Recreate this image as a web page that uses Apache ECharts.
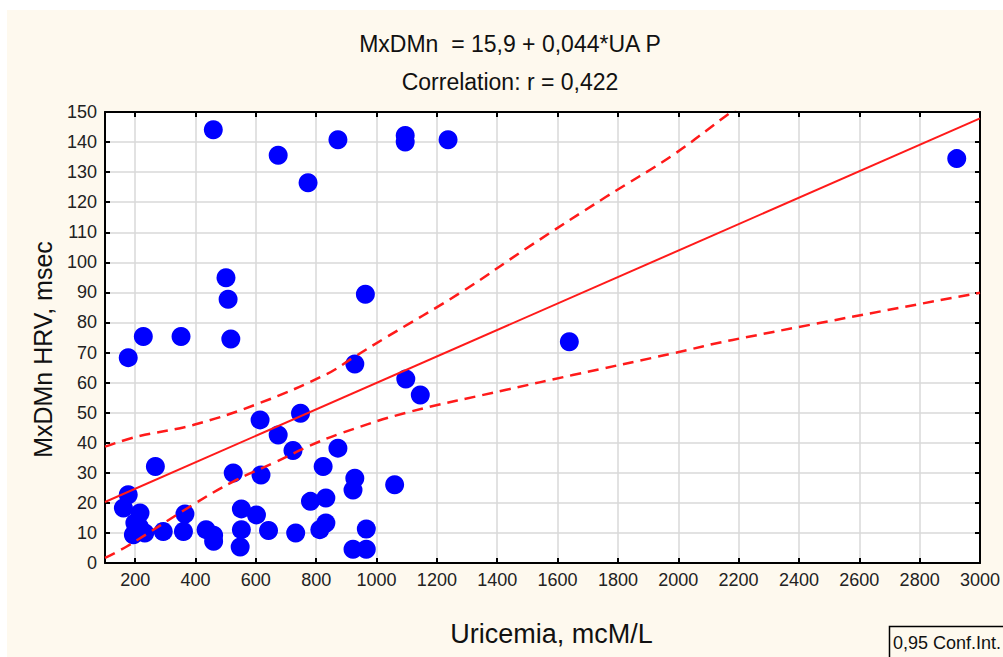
<!DOCTYPE html>
<html>
<head>
<meta charset="utf-8">
<title>MxDMn vs Uricemia</title>
<script src="https://cdn.jsdelivr.net/npm/echarts@6/dist/echarts.min.js"></script>
<style>
    html, body { margin: 0; padding: 0; background: #fff; }
    #chart { width: 1003px; height: 657px; }
</style>
</head>
<body>
<div id="chart"></div>
<script>
// uric acid (mcM/L) and MxDMn HRV (msec) per patient
const uaVals = [
    459, 674, 773, 872, 1095, 1095, 1237, 501, 508, 517,
    227, 352, 177, 963, 928, 1097, 1145, 614, 748, 1639,
    2923, 267, 177, 161, 216, 199, 194, 232, 214, 293,
    365, 360, 435, 460, 460, 525, 617, 552, 602, 552,
    548, 642, 674, 723, 872, 823, 928, 922, 1060, 781,
    832, 732, 812, 832, 966, 922, 966
];
const mxVals = [
    144.1, 135.6, 126.5, 140.8, 142.2, 140.0, 140.8, 94.9, 87.7, 74.5,
    75.3, 75.3, 68.3, 89.4, 66.2, 61.2, 55.9, 47.6, 49.8, 73.6,
    134.5, 32.1, 22.7, 18.3, 16.6, 13.3, 9.4, 10.0, 12.0, 10.5,
    16.3, 10.5, 11.1, 9.2, 7.2, 29.9, 29.3, 18.0, 16.0, 11.1,
    5.3, 10.8, 42.6, 37.4, 38.2, 32.1, 28.2, 24.3, 26.0, 20.5,
    21.6, 10.0, 11.1, 13.3, 11.3, 4.6, 4.6
];

// regression line end points
const fitX = [100, 3000];
const fitY = [20.3, 147.9];

// 0,95 confidence band, upper and lower
const upX = [100, 205, 392, 613, 834, 921, 1021, 1286, 1496, 1761, 1981, 2169, 2200];
const upY = [38.7, 42.0, 45.9, 53.2, 62.8, 68.2, 74.4, 90.4, 104.6, 121.8, 135.6, 149.5, 151.5];
const loX = [100, 172, 392, 525, 657, 779, 878, 1099, 1430, 1650, 1981, 2180, 3000];
const loY = [1.7, 5.5, 19.4, 27.1, 33.2, 39.0, 43.0, 50.0, 57.6, 62.5, 69.7, 74.2, 89.9];

const xTicks = [200, 400, 600, 800, 1000, 1200, 1400, 1600, 1800, 2000, 2200, 2400, 2600, 2800, 3000];

const FONT = "Liberation Sans";
const zip = (xs, ys) => xs.map((x, i) => [x, ys[i]]);

const chart = echarts.init(document.getElementById("chart"), null, { renderer: "svg" });

const axisLine = { show: true, onZero: false, lineStyle: { color: "#000", width: 2 } };
const tickStyle = { color: "#000", width: 2 };
const gridLine = { show: true, lineStyle: { color: "#d9d9d9", width: 1.5 } };
const dashed = { color: "#ff1a1a", width: 2.5, type: [11, 7] };

chart.setOption({
    backgroundColor: "#fff",
    animation: false,
    graphic: [
        {
            type: "rect", z: -10, silent: true,
            shape: { x: 7, y: 10, width: 1000, height: 650 },
            style: { fill: "#fef9ee" }
        },
        {
            type: "text", x: 510, y: 44,
            style: { text: "MxDMn  = 15,9 + 0,044*UA P", align: "center", verticalAlign: "middle", fontSize: 23, fontFamily: FONT, fill: "#111" }
        },
        {
            type: "text", x: 510, y: 82,
            style: { text: "Correlation: r = 0,422", align: "center", verticalAlign: "middle", fontSize: 23, fontFamily: FONT, fill: "#111" }
        },
        {
            type: "rect", silent: true,
            shape: { x: 889.5, y: 626.5, width: 130, height: 40 },
            style: { fill: "#fef9ee", stroke: "#000", lineWidth: 1.5 }
        },
        {
            type: "text", x: 893, y: 643,
            style: { text: "0,95 Conf.Int.", align: "left", verticalAlign: "middle", fontSize: 18, fontFamily: FONT, fill: "#111" }
        }
    ],
    grid: { left: 105, right: 22, top: 112, bottom: 94, show: true, backgroundColor: "#fff", borderWidth: 0 },
    xAxis: [
        {
            type: "value", min: 100, max: 3000, position: "bottom",
            name: "Uricemia, mcM/L", nameLocation: "middle", nameGap: 57,
            nameTextStyle: { fontSize: 27, color: "#111", fontFamily: FONT, padding: [0, 0, 0, 18] },
            axisLine,
            axisTick: { inside: true, length: 5, customValues: xTicks, lineStyle: tickStyle },
            axisLabel: { customValues: xTicks, formatter: v => String(v), fontSize: 18, color: "#222", fontFamily: FONT, margin: 8 },
            splitLine: gridLine
        },
        {
            type: "value", min: 100, max: 3000, position: "top",
            axisLine,
            axisTick: { inside: true, length: 5, customValues: xTicks, lineStyle: tickStyle },
            axisLabel: { show: false },
            splitLine: { show: false }
        }
    ],
    yAxis: [
        {
            type: "value", min: 0, max: 150, interval: 10, position: "left",
            name: "MxDMn HRV, msec", nameLocation: "middle", nameGap: 50,
            nameTextStyle: { fontSize: 25, color: "#111", fontFamily: FONT, padding: [0, 24, 0, 0] },
            axisLine,
            axisTick: { inside: true, length: 5, lineStyle: tickStyle },
            axisLabel: { fontSize: 18, color: "#222", fontFamily: FONT, margin: 8 },
            splitLine: gridLine
        },
        {
            type: "value", min: 0, max: 150, interval: 10, position: "right",
            axisLine,
            axisTick: { inside: true, length: 5, lineStyle: tickStyle },
            axisLabel: { show: false },
            splitLine: { show: false }
        }
    ],
    series: [
        {
            type: "scatter", z: 2,
            symbolSize: 19,
            itemStyle: { color: "#0000ff", opacity: 1 },
            data: zip(uaVals, mxVals)
        },
        {
            type: "line", z: 3, showSymbol: false,
            lineStyle: { color: "#ff1a1a", width: 2 },
            data: zip(fitX, fitY)
        },
        {
            type: "line", z: 3, showSymbol: false, smooth: 0.4, clip: true,
            lineStyle: dashed,
            data: zip(upX, upY)
        },
        {
            type: "line", z: 3, showSymbol: false, smooth: 0.4, clip: true,
            lineStyle: dashed,
            data: zip(loX, loY)
        }
    ]
});
</script>
</body>
</html>
